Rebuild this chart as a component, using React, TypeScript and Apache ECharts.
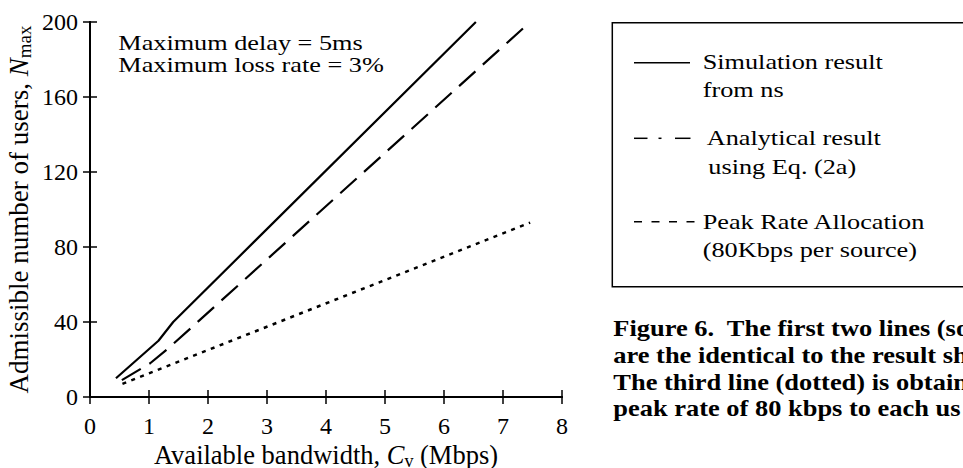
import React, { useEffect, useRef } from "react";
import * as echarts from "echarts";

// Data (x: available bandwidth in Mbps, y: admissible users)
const simulationResult: [number, number][] = [
  [0.44, 10],
  [1.16, 30],
  [1.41, 40],
  [6.54, 200],
];
const analyticalResult: [number, number][] = [
  [0.54, 9],
  [1.02, 18],
  [1.33, 26],
  [7.46, 200],
];
const peakRateAllocation: [number, number][] = [
  [0.55, 7],
  [7.46, 93],
];

const seriesNames = ["Simulation result", "Analytical result", "Peak Rate Allocation"];
const legendLines = [
  ["Simulation result", "from ns"],
  ["Analytical result", "using Eq. (2a)"],
  ["Peak Rate Allocation", "(80Kbps per source)"],
];
const annotationLines = ["Maximum delay = 5ms", "Maximum loss rate = 3%"];
const captionLines = [
  "Figure 6.  The first two lines (so",
  "are the identical to the result sh",
  "The third line (dotted) is obtain",
  "peak rate of 80 kbps to each us",
];

const FONT = '"Liberation Serif", "Times New Roman", Times, serif';

export default function App() {
  const ref = useRef<HTMLDivElement>(null);

  useEffect(() => {
    if (!ref.current) return;
    const chart = echarts.init(ref.current, undefined, { renderer: "svg" });

    const axisCommon = {
      min: 0,
      axisLine: { show: true, lineStyle: { color: "#000", width: 2 } },
      axisTick: { show: true, inside: true, length: 7, lineStyle: { color: "#000", width: 1.5 } },
      splitLine: { show: false },
    };

    const textEl = (
      x: number,
      y: number,
      text: string,
      size: number,
      sx: number,
      weight: string = "normal"
    ) => ({
      type: "text",
      x,
      y,
      scaleX: sx,
      silent: true,
      style: {
        text,
        fill: "#000",
        fontFamily: FONT,
        fontSize: size,
        fontWeight: weight,
        textAlign: "left",
        textVerticalAlign: "middle",
      },
    });

    const legendTextY = [
      [61.7, 90],
      [138, 166.7],
      [221.7, 250],
    ];
    const legendTextX = [
      [702.7, 702.7],
      [706.7, 708.3],
      [702.7, 702.7],
    ];

    const graphics: any[] = [
      // legend frame
      {
        type: "rect",
        shape: { x: 612.3, y: 22.7, width: 400, height: 264 },
        style: { fill: "none", stroke: "#000", lineWidth: 1.5 },
        silent: true,
      },
      // legend samples
      {
        type: "line",
        shape: { x1: 634, y1: 62.7, x2: 690, y2: 62.7 },
        style: { stroke: "#000", lineWidth: 1.5 },
      },
      {
        type: "line",
        shape: { x1: 634, y1: 138.3, x2: 647.5, y2: 138.3 },
        style: { stroke: "#000", lineWidth: 1.5 },
      },
      {
        type: "line",
        shape: { x1: 658.5, y1: 138.3, x2: 661.5, y2: 138.3 },
        style: { stroke: "#000", lineWidth: 1.5 },
      },
      {
        type: "line",
        shape: { x1: 675, y1: 138.3, x2: 690.5, y2: 138.3 },
        style: { stroke: "#000", lineWidth: 1.5 },
      },
      {
        type: "line",
        shape: { x1: 634, y1: 221.7, x2: 695, y2: 221.7 },
        style: { stroke: "#000", lineWidth: 1.5, lineDash: [8, 9.5] },
      },
    ];
    legendLines.forEach((pair, i) => {
      pair.forEach((t, j) => {
        graphics.push(textEl(legendTextX[i][j], legendTextY[i][j], t, 21, 1.25));
      });
    });
    annotationLines.forEach((t, i) => {
      graphics.push(textEl(118.3, 43 + i * 22, t, 21, 1.25));
    });
    captionLines.forEach((t, i) => {
      graphics.push(textEl(613.3, 328.3 + i * 26.7, t, 23, 1.15, "bold"));
    });

    chart.setOption({
      animation: false,
      backgroundColor: "#fff",
      grid: {
        left: 90,
        top: 22,
        right: 401,
        bottom: 71,
        containLabel: false,
        outerBoundsMode: "none",
      },
      xAxis: [
        {
          ...axisCommon,
          type: "value",
          max: 8,
          interval: 1,
          position: "bottom",
          axisLabel: { color: "#000", fontFamily: FONT, fontSize: 24, margin: 17 },
          name: "Available bandwidth, {i|C}{sub|v} (Mbps)",
          nameLocation: "middle",
          nameGap: 43,
          nameMoveOverlap: false,
          nameTextStyle: {
            color: "#000",
            fontFamily: FONT,
            fontSize: 26.5,
            lineHeight: 30,
            rich: {
              i: { fontStyle: "italic", fontFamily: FONT, fontSize: 26.5, lineHeight: 30, color: "#000" },
              sub: { fontFamily: FONT, fontSize: 18, lineHeight: 30, verticalAlign: "bottom", color: "#000" },
            },
          },
        },
        {
          ...axisCommon,
          type: "value",
          max: 8,
          interval: 1,
          position: "top",
          axisLabel: { show: false },
        },
      ],
      yAxis: [
        {
          ...axisCommon,
          type: "value",
          max: 200,
          interval: 40,
          position: "left",
          axisLabel: { color: "#000", fontFamily: FONT, fontSize: 24, margin: 12 },
          name: "Admissible number of users, {i|N}{sub|max}",
          nameLocation: "middle",
          nameGap: 56,
          nameTextStyle: {
            color: "#000",
            fontFamily: FONT,
            fontSize: 27,
            lineHeight: 30,
            rich: {
              i: { fontStyle: "italic", fontFamily: FONT, fontSize: 27, lineHeight: 30, color: "#000" },
              sub: { fontFamily: FONT, fontSize: 19, lineHeight: 30, verticalAlign: "bottom", color: "#000" },
            },
          },
        },
        {
          ...axisCommon,
          type: "value",
          max: 200,
          interval: 40,
          position: "right",
          axisLabel: { show: false },
        },
      ],
      series: [
        {
          name: seriesNames[0],
          type: "line",
          data: simulationResult,
          showSymbol: false,
          symbol: "none",
          lineStyle: { color: "#000", width: 2.2, type: "solid" },
          clip: true,
        },
        {
          name: seriesNames[1],
          type: "line",
          data: analyticalResult,
          showSymbol: false,
          symbol: "none",
          lineStyle: { color: "#000", width: 2.2, type: [22, 10] },
          clip: true,
        },
        {
          name: seriesNames[2],
          type: "line",
          data: peakRateAllocation,
          showSymbol: false,
          symbol: "none",
          lineStyle: { color: "#000", width: 2.5, type: [4, 5.5] },
          clip: true,
        },
      ],
      graphic: graphics,
    });

    return () => chart.dispose();
  }, []);

  return (
    <div
      ref={ref}
      style={{ position: "fixed", left: 0, top: 0, width: 963, height: 468, background: "#fff" }}
    />
  );
}
